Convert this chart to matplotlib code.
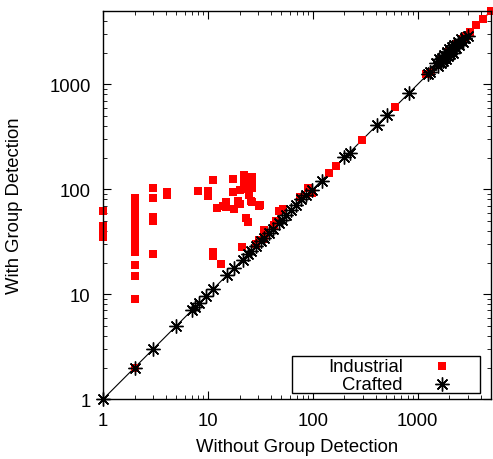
import matplotlib
matplotlib.use('Agg')
import numpy as np
from matplotlib import pyplot as plt
from matplotlib.patches import Rectangle

plt.rcParams['font.family'] = ['Liberation Sans', 'DejaVu Sans']

# Industrial instances: (without, with) group detection
ind_x = [1, 1, 1, 1, 1,
         2, 2, 2, 2, 2, 2, 2, 2, 2, 2, 2, 2, 2, 2, 2, 2, 2, 2, 2, 2,
         3, 3, 3, 3, 3, 4.1, 4.1,
         8.1, 10.1, 10.1, 11.3, 12.3, 14, 15, 14.8, 17.4, 17.5, 17.8, 19.4, 20,
         22.2, 22.2, 22.2, 22.2, 20, 26.4, 26.4, 26.4, 24.7, 25.5, 26.4, 30.5, 31.6,
         23.3, 24.3, 11.3, 11.3, 13.2, 21.3, 28.7,
         31, 34, 34, 36, 43, 45, 48, 52, 75, 90, 98, 143, 166, 296, 608,
         1200, 1350, 1700, 2000, 2300, 2700, 2900, 3150, 3600, 4150, 5000]
ind_y = [62, 45, 42, 38, 35,
         83, 78, 72, 66, 61, 56, 51, 47, 43, 40, 37, 34, 31, 29, 27, 25, 19, 15, 9, 2,
         102, 82, 54, 50, 24, 95, 88,
         96, 96, 86, 122, 66, 70, 68, 75, 95, 125, 65, 77, 72,
         136, 125, 112, 100, 98, 130, 115, 103, 88, 77, 75, 69, 70.5,
         53.5, 49, 25.4, 23, 19.3, 28.5, 30.3,
         33, 33.5, 40.7, 38, 46, 50, 61.5, 65, 85, 103, 93, 144, 168, 296, 608,
         1250, 1320, 1750, 2100, 2400, 2700, 2880, 3130, 3700, 4200, 5000]

# Crafted instances
cra_x = [1, 2, 3, 5, 7.1, 7.5, 8.3, 9.6, 11.1, 15.2, 17.6, 21.4, 24, 26, 28.7, 32, 34, 38,
         42, 48, 51, 55, 62, 69, 77, 86, 98.5, 122, 200, 225, 405, 510, 820, 1260, 1300,
         1500, 1550, 1600, 1650, 1700, 1750, 1800, 1850, 1900, 1950, 2000, 2050, 2100,
         2150, 2200, 2300, 2400, 2500, 2600, 2700, 2800, 3000]
cra_y = [1, 2, 3, 5, 7.1, 7.6, 8.3, 9.6, 11.1, 15.2, 17.6, 21.4, 24, 26, 28.7, 32, 34, 38,
         42, 48, 51, 57, 64, 71, 80, 89, 99, 121, 203, 223, 407, 514, 826, 1260, 1320,
         1600, 1500, 1750, 1600, 1800, 1650, 1900, 1750, 2050, 1850, 2150, 1950, 2250,
         2000, 2350, 2200, 2550, 2350, 2700, 2550, 2750, 2900]

diag = [1, 5000]
star = (8, 2, 0)
fs = 13.3

fig = plt.figure(figsize=(4.93, 4.60), dpi=100)
ax = fig.add_axes([0.209, 0.130, 0.787, 0.844])

ax.plot(diag, diag, color='black', lw=0.8, zorder=1)
ax.plot(ind_x, ind_y, 's', color='red', ms=6.3, mew=0, zorder=2, clip_on=False)
ax.plot(cra_x, cra_y, ls='none', marker=star, color='black', ms=10, mew=1.0,
        zorder=3, clip_on=False)

ax.set_xscale('log')
ax.set_yscale('log')
ax.set_xlim(1, 5000)
ax.set_ylim(1, 5000)
ticks = [1, 10, 100, 1000]
ax.set_xticks(ticks)
ax.set_xticklabels(['1', '10', '100', '1000'])
ax.set_yticks(ticks)
ax.set_yticklabels(['1', '10', '100', '1000'])
ax.tick_params(which='both', direction='in', top=True, right=True, labelsize=fs)
ax.tick_params(which='major', length=6, pad=9)
ax.tick_params(which='minor', length=3)
for s in ax.spines.values():
    s.set_linewidth(1.0)

ax.set_xlabel('Without Group Detection', fontsize=fs, labelpad=7)
ax.set_ylabel('With Group Detection', fontsize=fs, labelpad=19)

# gnuplot style key: right-aligned labels, sample to the right, boxed
ax.add_patch(Rectangle((0.487, 0.0155), 0.485, 0.0955, transform=ax.transAxes,
                       facecolor='white', edgecolor='black', lw=1.0, zorder=5))
ax.text(0.773, 0.085, 'Industrial', transform=ax.transAxes, ha='right', va='center',
        fontsize=fs, zorder=6)
ax.text(0.773, 0.039, 'Crafted', transform=ax.transAxes, ha='right', va='center',
        fontsize=fs, zorder=6)
ax.plot([0.874], [0.085], 's', color='red', ms=6.3, mew=0, transform=ax.transAxes,
        zorder=6, clip_on=False)
ax.plot([0.874], [0.039], ls='none', marker=star, color='black', ms=10, mew=1.0,
        transform=ax.transAxes, zorder=6, clip_on=False)

fig.savefig('out.png', dpi=100)
